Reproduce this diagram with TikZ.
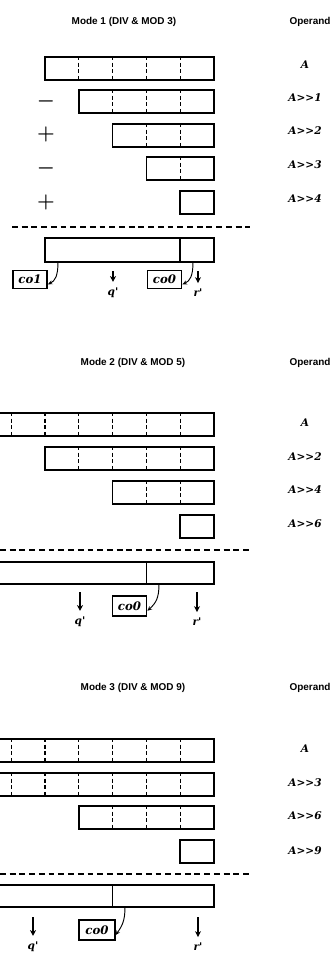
\documentclass[tikz,border=0pt]{standalone}
\usepackage{fontspec}
\setsansfont{Liberation Sans}
\newfontfamily\labelfont{DejaVu Serif}
\usetikzlibrary{arrows.meta}

% one register row: number of cells, top y, bottom y (right edge fixed)
\newcommand{\oprow}[3]{%
  \draw[rowbox] ({214-#1*33.8},#2) rectangle (214,#3);
  \ifnum#1>1
    \foreach \k in {2,...,#1}
      \draw[cellsep] ({214-(\k-1)*33.8},#2) -- ({214-(\k-1)*33.8},#3);
  \fi}
\newcommand{\shr}{>\kern0pt>}

\begin{document}
\begin{tikzpicture}[x=0.03cm, y=-0.03cm, >=Stealth,
  every node/.style={inner sep=0pt},
  rowbox/.style={line width=1.2pt},
  cellsep/.style={line width=1.1pt, dash pattern=on 3.5pt off 2.2pt, dash phase=1pt},
  sumline/.style={line width=1.2pt, dash pattern=on 5pt off 3.3pt},
  title/.style={font=\sffamily\bfseries\fontsize{8.5}{10}\selectfont},
  oplabel/.style={font=\labelfont\bfseries\itshape\fontsize{9}{10}\selectfont},
  sign/.style={font=\boldmath\fontsize{18}{18}\selectfont},
  cobox/.style={draw, line width=1.2pt, minimum width=1.03cm, minimum height=0.6cm,
    font=\labelfont\bfseries\itshape\fontsize{10}{10}\selectfont},
  carry/.style={line width=0.8pt, -{Stealth[open, length=4pt, width=3.5pt]}},
  outarrow/.style={line width=1.1pt, -{Stealth[length=5pt, width=5pt, inset=1.5pt]}, shorten >=5pt}]
  \path[use as bounding box] (0,0) rectangle (334,953);
  \clip (0,0) rectangle (334,953);

  % Mode 1
  \node[title] (t1) at (124,22) {Mode 1 (DIV \& MOD 3)};
  \node[title] (op1) at (310,22) {Operand};
  \oprow{5}{57}{80}
  \oprow{4}{90}{113}
  \oprow{3}{124}{147}
  \oprow{2}{157}{180}
  \oprow{1}{191}{214}
  \node[oplabel] (a1) at (305,65) {A};
  \node[oplabel] (a1s1) at (305,98) {A\shr1};
  \node[oplabel] (a1s2) at (305,131) {A\shr2};
  \node[oplabel] (a1s3) at (305,165) {A\shr3};
  \node[oplabel] (a1s4) at (305,199) {A\shr4};
  \node[sign] (s11) at (46,101) {$-$};
  \node[sign] (s12) at (46,134) {$+$};
  \node[sign] (s13) at (46,168) {$-$};
  \node[sign] (s14) at (46,202) {$+$};
  \draw[sumline] (12,227) -- (250,227);
  \draw[rowbox] (45,238) rectangle (214,262);
  \draw[rowbox] (180.2,238) -- (180.2,262);
  \node[cobox, minimum height=0.53cm] (co1a) at (30,279.5) {co1};
  \node[cobox, minimum height=0.53cm] (co0a) at (164.5,279.5) {co0};
  \coordinate (k1a) at (58,262);
  \coordinate (k0a) at (193,262);
  \draw[carry] (k1a) .. controls (58,276) and (55,281) .. (co1a.-15);
  \draw[carry] (k0a) .. controls (193,276) and (190,281) .. (co0a.-15);
  \coordinate (qa) at (113,271);
  \coordinate (ra) at (198,271);
  \node[oplabel] (qla) at (113,293) {q'};
  \node[oplabel] (rla) at (198,293) {r'};
  \draw[outarrow] (qa) -- (qla.north);
  \draw[outarrow] (ra) -- (rla.north);

  % Mode 2
  \node[title] (t2) at (133,363) {Mode 2 (DIV \& MOD 5)};
  \node[title] (op2) at (310,363) {Operand};
  \oprow{7}{413}{436}
  \oprow{5}{447}{470}
  \oprow{3}{481}{504}
  \oprow{1}{515}{538}
  \node[oplabel] (a2) at (305,423) {A};
  \node[oplabel] (a2s2) at (305,457) {A\shr2};
  \node[oplabel] (a2s4) at (305,490) {A\shr4};
  \node[oplabel] (a2s6) at (305,524) {A\shr6};
  \draw[sumline] (0,550) -- (250,550);
  \draw[rowbox] (-30,562) rectangle (214,584);
  \draw[rowbox] (146.4,562) -- (146.4,584);
  \node[cobox] (co0b) at (129.5,606) {co0};
  \coordinate (k0b) at (159,584);
  \draw[carry] (k0b) .. controls (159,598) and (156,603) .. (co0b.-15);
  \coordinate (qb) at (80,592);
  \coordinate (rb) at (197,592);
  \node[oplabel] (qlb) at (80,622) {q'};
  \node[oplabel] (rlb) at (197,622) {r'};
  \draw[outarrow] (qb) -- (qlb.north);
  \draw[outarrow] (rb) -- (rlb.north);

  % Mode 3
  \node[title] (t3) at (133,688) {Mode 3 (DIV \& MOD 9)};
  \node[title] (op3) at (310,688) {Operand};
  \oprow{10}{739}{762}
  \oprow{7}{773}{796}
  \oprow{4}{806}{829}
  \oprow{1}{840}{863}
  \node[oplabel] (a3) at (305,749) {A};
  \node[oplabel] (a3s3) at (305,783) {A\shr3};
  \node[oplabel] (a3s6) at (305,816) {A\shr6};
  \node[oplabel] (a3s9) at (305,851) {A\shr9};
  \draw[sumline] (0,874) -- (250,874);
  \draw[rowbox] (-30,885) rectangle (214,907);
  \draw[rowbox] (112.6,885) -- (112.6,907);
  \node[cobox, minimum width=1.08cm] (co0c) at (97,930) {co0};
  \coordinate (k0c) at (125,907);
  \draw[carry] (k0c) .. controls (125,921) and (122,926) .. (co0c.-15);
  \coordinate (qc) at (33,917);
  \coordinate (rc) at (198,917);
  \node[oplabel] (qlc) at (33,947) {q'};
  \node[oplabel] (rlc) at (198,947) {r'};
  \draw[outarrow] (qc) -- (qlc.north);
  \draw[outarrow] (rc) -- (rlc.north);
\end{tikzpicture}
\end{document}
